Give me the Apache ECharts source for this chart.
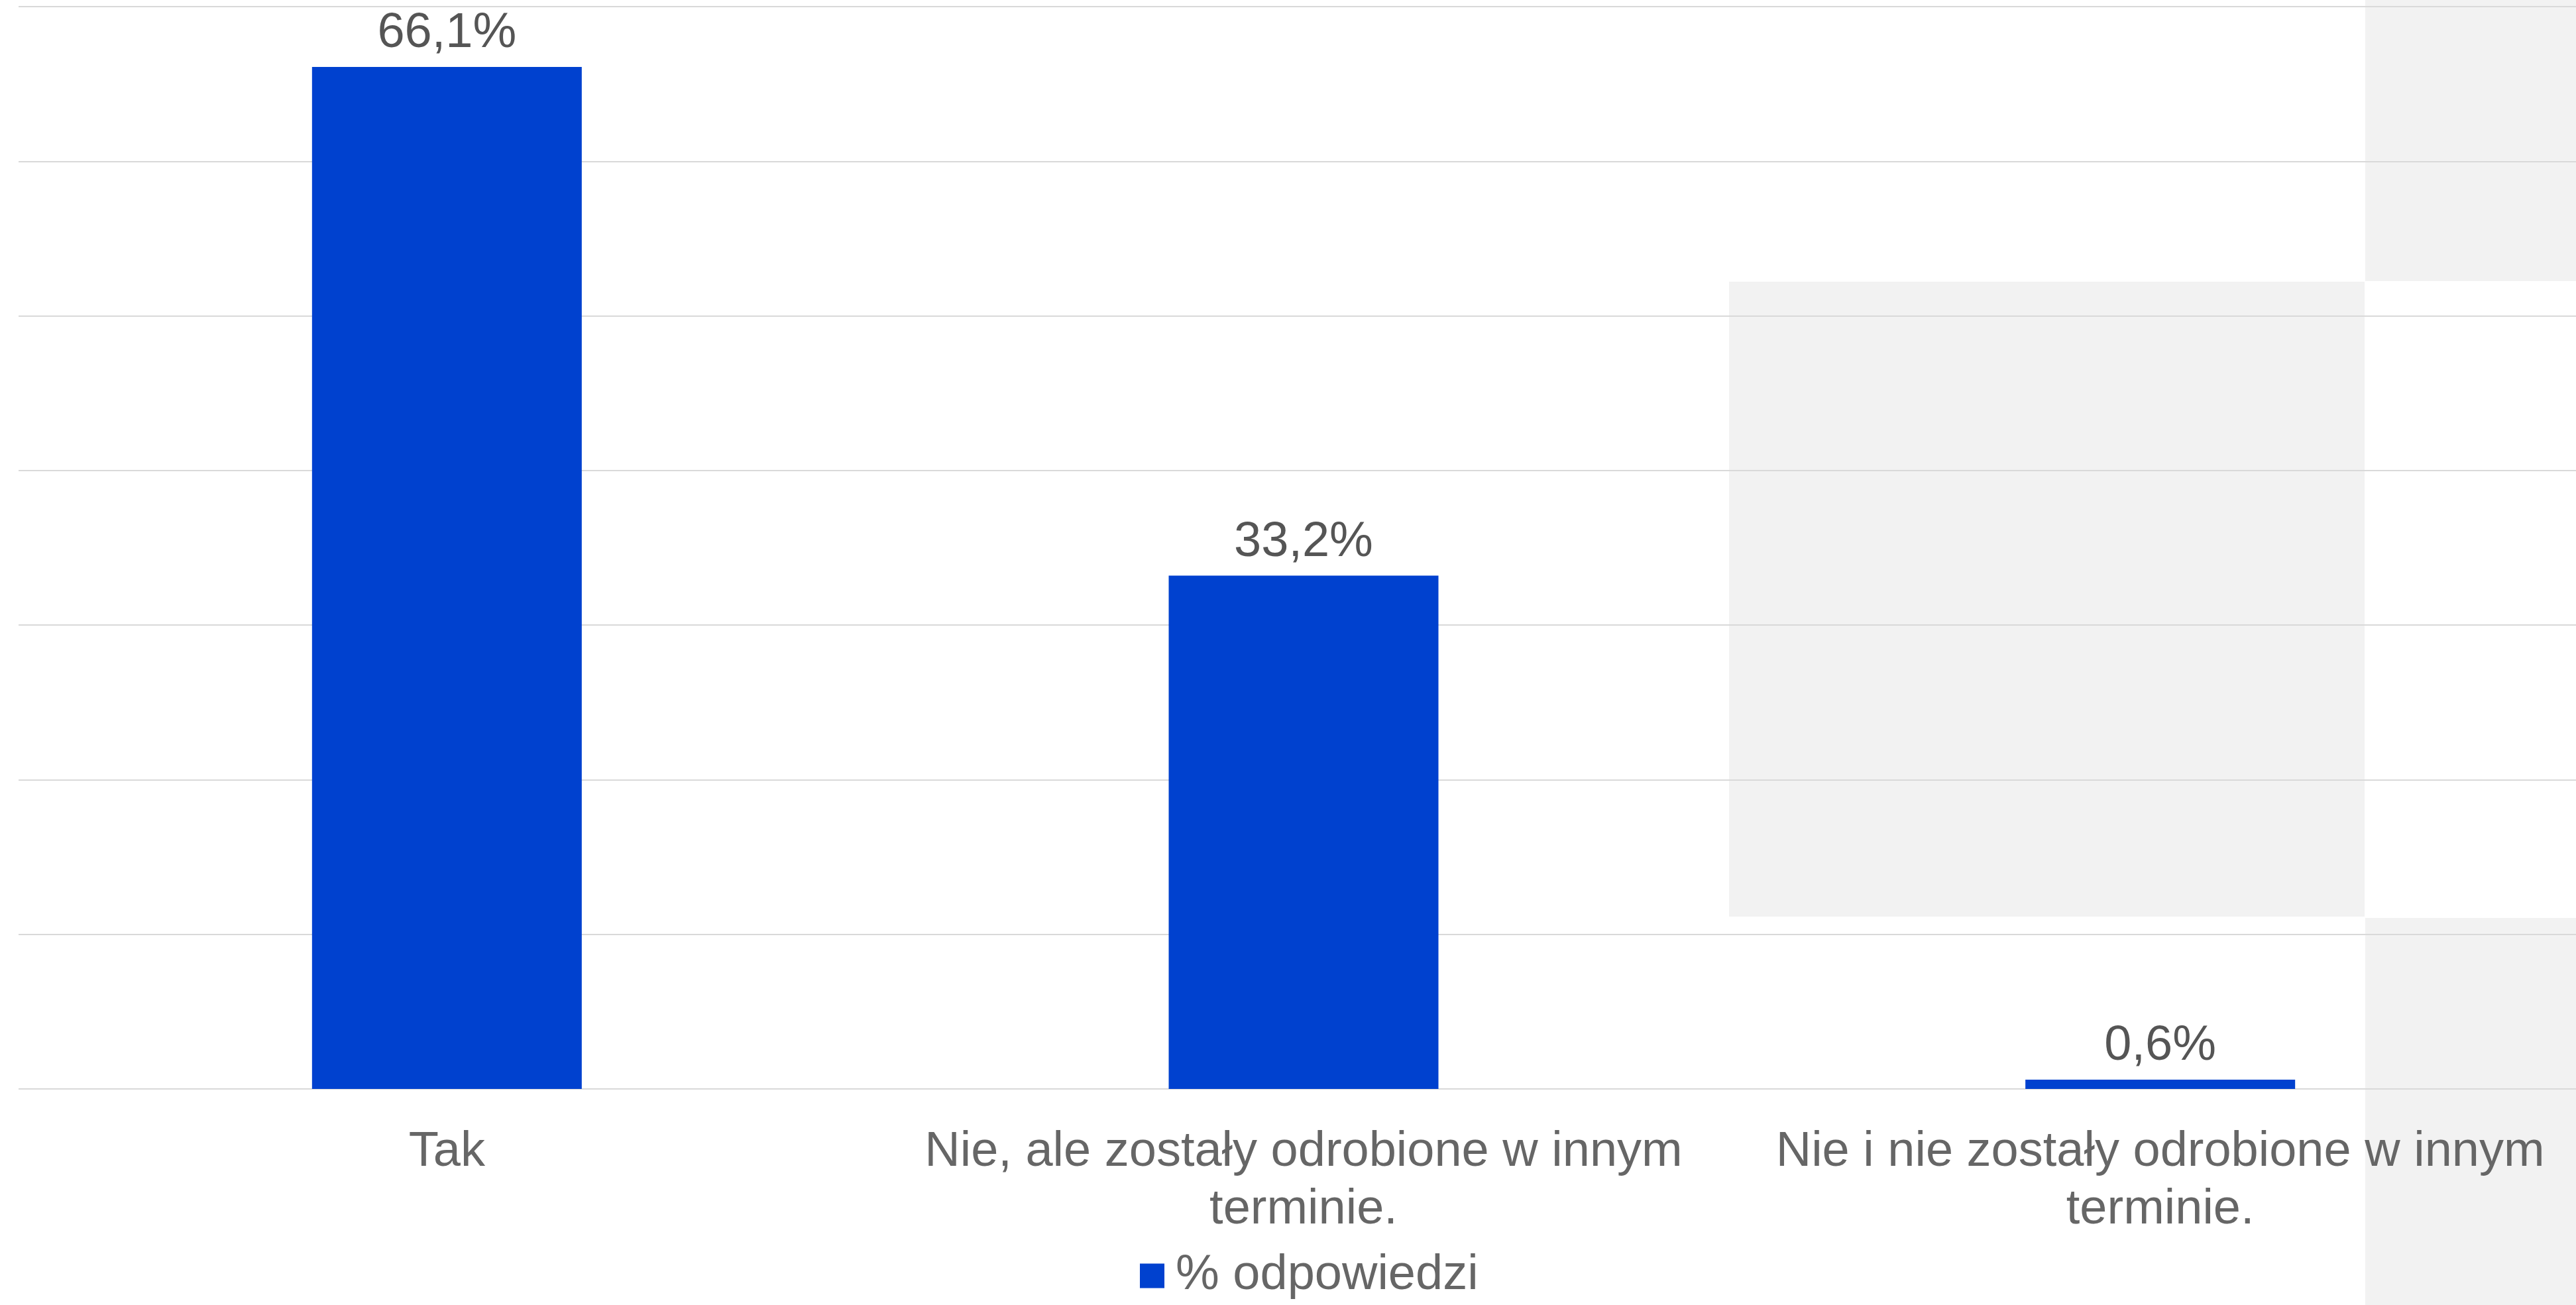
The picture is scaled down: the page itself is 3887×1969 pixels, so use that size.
<!DOCTYPE html>
<html>
<head>
<meta charset="utf-8">
<script src="https://cdn.jsdelivr.net/npm/echarts@6/dist/echarts.min.js"></script>
<style>html,body{margin:0;padding:0;background:#fff;overflow:hidden;width:3887px;height:1969px}#c{width:3906px;height:1969px}</style>
</head>
<body>
<div id="c"></div>
<script>
const categories = ["Tak", "Nie, ale zostały odrobione w innym terminie.", "Nie i nie zostały odrobione w innym terminie."];
const values = [66.1, 33.2, 0.6];
const seriesName = "% odpowiedzi";
const yTicks = [0, 10, 20, 30, 40, 50, 60, 70];

const FONT = "'Liberation Sans', Arial, sans-serif";
const chart = echarts.init(document.getElementById('c'), null, {renderer: 'canvas'});
chart.setOption({
  animation: false,
  backgroundColor: '#ffffff',
  graphic: [
    {type: 'rect', z: -10, shape: {x: 2609, y: 425, width: 959, height: 958}, style: {fill: '#f2f2f2'}},
    {type: 'rect', z: -10, shape: {x: 3569, y: 0, width: 337, height: 424}, style: {fill: '#f2f2f2'}},
    {type: 'rect', z: -10, shape: {x: 3569, y: 1385, width: 337, height: 584}, style: {fill: '#f2f2f2'}}
  ],
  grid: {left: 28, right: 0, top: 10, height: 1633, containLabel: false},
  legend: {
    data: [seriesName],
    left: 1720, top: 1888, padding: 0,
    itemWidth: 37, itemHeight: 37, icon: 'rect',
    textStyle: {fontFamily: FONT, fontSize: 74, color: '#666666', padding: [0, 0, 0, 12]}
  },
  xAxis: {
    type: 'category',
    data: categories,
    axisLine: {show: false},
    axisTick: {show: false},
    axisLabel: {
      interval: 0,
      margin: 52,
      fontFamily: FONT, fontSize: 74, lineHeight: 87, color: '#666666',
      formatter: v => v.replace(' terminie.', '\nterminie.')
    }
  },
  yAxis: {
    type: 'value',
    min: yTicks[0], max: yTicks[yTicks.length - 1], interval: 10,
    axisLabel: {show: false},
    axisLine: {show: false},
    axisTick: {show: false},
    splitLine: {show: true, lineStyle: {color: '#d9d9d9', width: 2}}
  },
  series: [{
    name: seriesName,
    type: 'bar',
    data: values,
    barWidth: 407,
    itemStyle: {color: '#0041cf'},
    label: {
      show: true, position: 'top', distance: 13,
      fontFamily: FONT, fontSize: 74, color: '#555555',
      formatter: p => p.value.toFixed(1).replace('.', ',') + '%'
    }
  }]
});
</script>
</body>
</html>
